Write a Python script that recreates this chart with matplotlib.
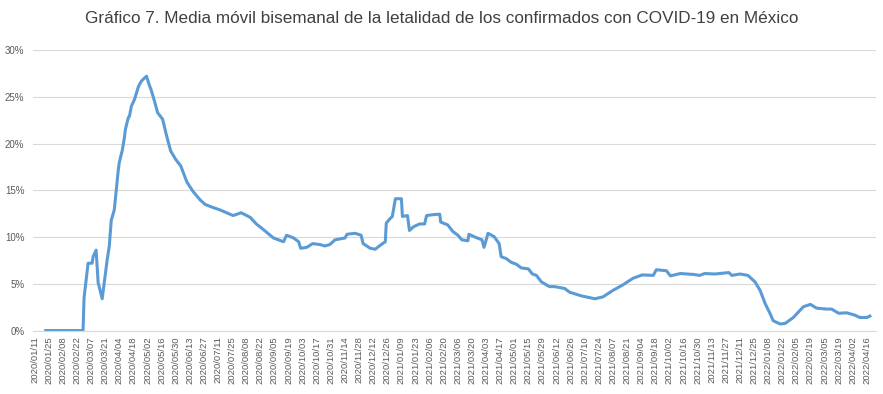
import pandas as pd
import matplotlib
matplotlib.use("Agg")
import matplotlib.pyplot as plt
import matplotlib.dates as mdates
from matplotlib.ticker import FuncFormatter

# Lethality moving average (%)
dates = [
    "2020-01-22", "2020-02-28", "2020-02-29", "2020-03-04", "2020-03-08", "2020-03-09",
    "2020-03-12", "2020-03-14", "2020-03-15", "2020-03-18", "2020-03-23", "2020-03-25",
    "2020-03-27", "2020-03-30", "2020-04-01", "2020-04-03", "2020-04-04", "2020-04-07",
    "2020-04-09", "2020-04-10", "2020-04-13", "2020-04-14", "2020-04-16", "2020-04-19",
    "2020-04-21", "2020-04-23", "2020-04-26", "2020-05-01", "2020-05-03", "2020-05-06",
    "2020-05-09", "2020-05-12", "2020-05-17", "2020-05-21", "2020-05-25", "2020-05-30",
    "2020-06-04", "2020-06-10", "2020-06-16", "2020-06-23", "2020-06-28", "2020-07-05",
    "2020-07-13", "2020-07-26", "2020-08-03", "2020-08-12", "2020-08-18", "2020-08-25",
    "2020-09-04", "2020-09-14", "2020-09-17", "2020-09-24", "2020-09-29", "2020-10-01",
    "2020-10-07", "2020-10-13", "2020-10-20", "2020-10-25", "2020-10-30", "2020-11-04",
    "2020-11-14", "2020-11-16", "2020-11-24", "2020-11-30", "2020-12-02", "2020-12-09",
    "2020-12-14", "2020-12-20", "2020-12-24", "2020-12-25", "2020-12-29", "2020-12-31",
    "2021-01-03", "2021-01-09", "2021-01-10", "2021-01-15", "2021-01-17", "2021-01-21",
    "2021-01-27", "2021-02-01", "2021-02-03", "2021-02-10", "2021-02-16", "2021-02-17",
    "2021-02-24", "2021-03-01", "2021-03-06", "2021-03-10", "2021-03-16", "2021-03-17",
    "2021-03-23", "2021-03-30", "2021-04-01", "2021-04-05", "2021-04-11", "2021-04-16",
    "2021-04-18", "2021-04-23", "2021-04-28", "2021-05-03", "2021-05-08", "2021-05-15",
    "2021-05-19", "2021-05-23", "2021-05-28", "2021-06-05", "2021-06-10", "2021-06-20",
    "2021-06-25", "2021-07-07", "2021-07-20", "2021-07-28", "2021-08-07", "2021-08-17",
    "2021-08-27", "2021-09-05", "2021-09-16", "2021-09-19", "2021-09-29", "2021-10-03",
    "2021-10-13", "2021-10-26", "2021-11-01", "2021-11-06", "2021-11-16", "2021-11-30",
    "2021-12-03", "2021-12-11", "2021-12-19", "2021-12-26", "2021-12-31", "2022-01-05",
    "2022-01-10", "2022-01-13", "2022-01-20", "2022-01-25", "2022-02-02", "2022-02-12",
    "2022-02-19", "2022-02-25", "2022-03-07", "2022-03-12", "2022-03-19", "2022-03-27",
    "2022-04-04", "2022-04-09", "2022-04-16", "2022-04-19",
]
letalidad = [
    0.0, 0.0, 3.5, 7.2, 7.2, 7.9,
    8.6, 5.1, 4.7, 3.4, 7.6, 9.0,
    11.8, 12.9, 15.0, 17.2, 18.0, 19.3,
    20.6, 21.5, 22.8, 22.9, 24.0, 24.7,
    25.4, 26.1, 26.7, 27.2, 26.5, 25.6,
    24.5, 23.3, 22.6, 20.8, 19.2, 18.3,
    17.6, 15.9, 14.9, 14.0, 13.5, 13.2,
    12.9, 12.3, 12.6, 12.1, 11.4, 10.8,
    9.9, 9.5, 10.2, 9.9, 9.5, 8.8,
    8.9, 9.3, 9.2, 9.05, 9.2, 9.7,
    9.9, 10.3, 10.4, 10.2, 9.3, 8.8,
    8.7, 9.2, 9.5, 11.5, 12.0, 12.2,
    14.1, 14.1, 12.2, 12.3, 10.7, 11.1,
    11.4, 11.4, 12.3, 12.4, 12.45, 11.6,
    11.3, 10.6, 10.2, 9.7, 9.6, 10.3,
    10.0, 9.7, 8.9, 10.4, 10.05, 9.3,
    7.9, 7.7, 7.3, 7.1, 6.7, 6.6,
    6.05, 5.9, 5.2, 4.7, 4.7, 4.5,
    4.1, 3.7, 3.4, 3.6, 4.3, 4.9,
    5.6, 5.95, 5.9, 6.5, 6.4, 5.85,
    6.1, 6.0, 5.9, 6.1, 6.05, 6.2,
    5.9, 6.05, 5.9, 5.2, 4.3, 2.9,
    1.8, 1.05, 0.7, 0.77, 1.4, 2.55,
    2.8, 2.4, 2.3, 2.3, 1.85, 1.9,
    1.65, 1.4, 1.4, 1.55,
]

tick_dates = pd.date_range("2020-01-11", "2022-04-16", freq="14D")
title = "Gráfico 7. Media móvil bisemanal de la letalidad de los confirmados con COVID-19 en México"

plt.rcParams['font.family'] = ['Liberation Sans', 'DejaVu Sans']

fig = plt.figure(figsize=(8.83, 3.94), dpi=100)
ax = fig.add_axes([0.037, 0.161, 0.955, 0.712])

ax.plot(pd.to_datetime(dates), letalidad, color='#5B9BD5', linewidth=2.2)

ax.set_ylim(0, 30)
ax.set_yticks(range(0, 31, 5))
ax.yaxis.set_major_formatter(FuncFormatter(lambda v, p: f"{int(v)}%"))
ax.set_xlim(pd.Timestamp("2020-01-09"), pd.Timestamp("2022-04-25"))
ax.set_xticks(tick_dates)
ax.xaxis.set_major_formatter(mdates.DateFormatter("%Y/%m/%d"))
plt.setp(ax.get_xticklabels(), rotation=90)

ax.grid(axis='y', color='#d9d9d9', linewidth=0.8)
ax.set_axisbelow(True)
for side in ['top', 'right', 'left']:
    ax.spines[side].set_visible(False)
ax.spines['bottom'].set_color('#d9d9d9')
ax.tick_params(axis='both', length=0, colors='#595959')
ax.tick_params(axis='x', labelsize=6.8, pad=4)
ax.tick_params(axis='y', labelsize=7, pad=6)

fig.text(0.5, 0.953, title, ha='center', va='center', fontsize=12.3, color='#404040')

fig.savefig("out.png", dpi=100)
